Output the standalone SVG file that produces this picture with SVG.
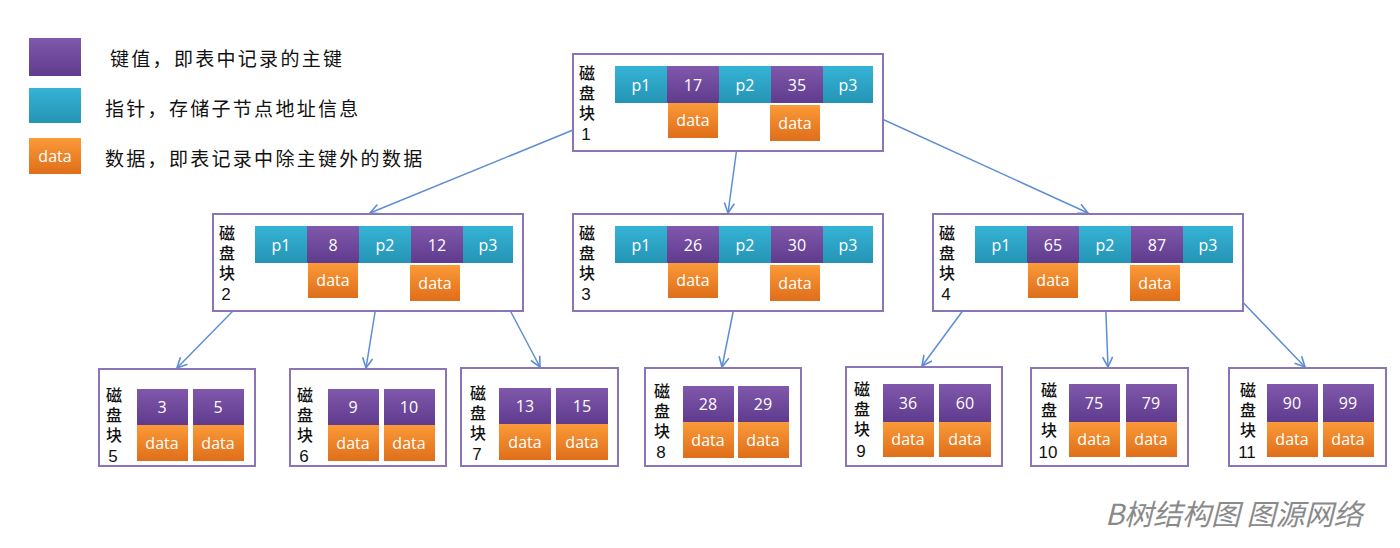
<svg xmlns="http://www.w3.org/2000/svg" width="1400" height="548" viewBox="0 0 1400 548">
<style>
.frame{fill:#fff;stroke:#8c74b8;stroke-width:2}
.k{fill:url(#gk)}
.p{fill:url(#gp)}
.d{fill:url(#gd)}
.t{font-family:"Open Sans","Liberation Sans",sans-serif;font-size:16px;fill:#fff;text-anchor:middle;dominant-baseline:central}
.lb{font-family:"Noto Sans CJK SC",sans-serif;font-size:16px;font-weight:500;fill:#111;writing-mode:vertical-rl;text-orientation:upright;letter-spacing:4px}
.nb{font-family:"Liberation Sans",sans-serif;font-size:17px;fill:#111;text-anchor:middle;dominant-baseline:central}
.lg{font-family:"Noto Sans CJK SC",sans-serif;font-size:19px;fill:#111;letter-spacing:2.3px;dominant-baseline:central}
.c{stroke:#5d8ed4;stroke-width:1.5;fill:none;marker-end:url(#ah)}
.cap{font-family:"Noto Sans CJK SC",sans-serif;font-size:29px;font-style:italic;fill:#8a8a8a}
</style>
<defs>
<linearGradient id="gk" x1="0" y1="0" x2="0" y2="1"><stop offset="0" stop-color="#8058ac"/><stop offset="1" stop-color="#5f3b8d"/></linearGradient>
<linearGradient id="gp" x1="0" y1="0" x2="0" y2="1"><stop offset="0" stop-color="#35b3d6"/><stop offset="1" stop-color="#2594b4"/></linearGradient>
<linearGradient id="gd" x1="0" y1="0" x2="0" y2="1"><stop offset="0" stop-color="#fa9a38"/><stop offset="1" stop-color="#df6e1a"/></linearGradient>
<marker id="ah" viewBox="0 0 12 12" refX="11" refY="6" markerWidth="12" markerHeight="12" markerUnits="userSpaceOnUse" orient="auto"><path d="M1,1 L11,6 L1,11" fill="none" stroke="#5d8ed4" stroke-width="1.6"/></marker>
</defs>

<g id="legend">
<rect x="29" y="38" width="52" height="38" class="k"/>
<text x="110" y="57" class="lg">键值，即表中记录的主键</text>
<rect x="29" y="88" width="52" height="35" class="p"/>
<text x="105" y="107" class="lg">指针，存储子节点地址信息</text>
<rect x="29" y="138" width="52" height="36" class="d"/>
<text x="55" y="156" class="t">data</text>
<text x="105" y="157" class="lg">数据，即表记录中除主键外的数据</text>
</g>

<g id="connectors">
<line class="c" x1="639" y1="103" x2="370" y2="213"/>
<line class="c" x1="743" y1="103" x2="728" y2="213"/>
<line class="c" x1="847" y1="103" x2="1088" y2="213"/>
<line class="c" x1="280" y1="263" x2="177" y2="368"/>
<line class="c" x1="383" y1="263" x2="366" y2="368"/>
<line class="c" x1="485" y1="263" x2="540" y2="367"/>
<line class="c" x1="743" y1="263" x2="722" y2="367"/>
<line class="c" x1="998" y1="263" x2="922" y2="366"/>
<line class="c" x1="1104" y1="263" x2="1108" y2="367"/>
<line class="c" x1="1205" y1="263" x2="1305" y2="367"/>
</g>

<g id="block1">
<rect class="frame" x="573" y="54" width="310" height="97"/>
<text class="lb" x="587" y="65">磁盘块</text><text class="nb" x="586" y="134">1</text>
<rect class="p" x="615" y="66" width="52" height="37"/><text class="t" x="641" y="85">p1</text>
<rect class="k" x="667" y="66" width="52" height="37"/><text class="t" x="693" y="85">17</text>
<rect class="p" x="719" y="66" width="52" height="37"/><text class="t" x="745" y="85">p2</text>
<rect class="k" x="771" y="66" width="52" height="37"/><text class="t" x="797" y="85">35</text>
<rect class="p" x="823" y="66" width="50" height="37"/><text class="t" x="848" y="85">p3</text>
<rect class="d" x="668" y="103" width="50" height="35"/><text class="t" x="693" y="120">data</text>
<rect class="d" x="770" y="105" width="50" height="36"/><text class="t" x="795" y="123">data</text>
</g>

<g id="block2">
<rect class="frame" x="213" y="214" width="310" height="97"/>
<text class="lb" x="227" y="225">磁盘块</text><text class="nb" x="226" y="294">2</text>
<rect class="p" x="255" y="226" width="52" height="37"/><text class="t" x="281" y="245">p1</text>
<rect class="k" x="307" y="226" width="52" height="37"/><text class="t" x="333" y="245">8</text>
<rect class="p" x="359" y="226" width="52" height="37"/><text class="t" x="385" y="245">p2</text>
<rect class="k" x="411" y="226" width="52" height="37"/><text class="t" x="437" y="245">12</text>
<rect class="p" x="463" y="226" width="50" height="37"/><text class="t" x="488" y="245">p3</text>
<rect class="d" x="308" y="263" width="50" height="35"/><text class="t" x="333" y="280">data</text>
<rect class="d" x="410" y="265" width="50" height="36"/><text class="t" x="435" y="283">data</text>
</g>

<g id="block3">
<rect class="frame" x="573" y="214" width="310" height="97"/>
<text class="lb" x="587" y="225">磁盘块</text><text class="nb" x="586" y="294">3</text>
<rect class="p" x="615" y="226" width="52" height="37"/><text class="t" x="641" y="245">p1</text>
<rect class="k" x="667" y="226" width="52" height="37"/><text class="t" x="693" y="245">26</text>
<rect class="p" x="719" y="226" width="52" height="37"/><text class="t" x="745" y="245">p2</text>
<rect class="k" x="771" y="226" width="52" height="37"/><text class="t" x="797" y="245">30</text>
<rect class="p" x="823" y="226" width="50" height="37"/><text class="t" x="848" y="245">p3</text>
<rect class="d" x="668" y="263" width="50" height="35"/><text class="t" x="693" y="280">data</text>
<rect class="d" x="770" y="265" width="50" height="36"/><text class="t" x="795" y="283">data</text>
</g>

<g id="block4">
<rect class="frame" x="933" y="214" width="310" height="97"/>
<text class="lb" x="947" y="225">磁盘块</text><text class="nb" x="946" y="294">4</text>
<rect class="p" x="975" y="226" width="52" height="37"/><text class="t" x="1001" y="245">p1</text>
<rect class="k" x="1027" y="226" width="52" height="37"/><text class="t" x="1053" y="245">65</text>
<rect class="p" x="1079" y="226" width="52" height="37"/><text class="t" x="1105" y="245">p2</text>
<rect class="k" x="1131" y="226" width="52" height="37"/><text class="t" x="1157" y="245">87</text>
<rect class="p" x="1183" y="226" width="50" height="37"/><text class="t" x="1208" y="245">p3</text>
<rect class="d" x="1028" y="263" width="50" height="35"/><text class="t" x="1053" y="280">data</text>
<rect class="d" x="1130" y="265" width="50" height="36"/><text class="t" x="1155" y="283">data</text>
</g>

<g id="block5">
<rect class="frame" x="99" y="369" width="156" height="97"/>
<text class="lb" x="114" y="387">磁盘块</text><text class="nb" x="113" y="456">5</text>
<rect class="k" x="137" y="389" width="51" height="36"/><text class="t" x="162" y="407">3</text>
<rect class="k" x="193" y="389" width="51" height="36"/><text class="t" x="218" y="407">5</text>
<rect class="d" x="137" y="425" width="51" height="36"/><text class="t" x="162" y="443">data</text>
<rect class="d" x="193" y="425" width="51" height="36"/><text class="t" x="218" y="443">data</text>
</g>

<g id="block6">
<rect class="frame" x="290" y="369" width="156" height="97"/>
<text class="lb" x="305" y="387">磁盘块</text><text class="nb" x="304" y="456">6</text>
<rect class="k" x="328" y="389" width="51" height="36"/><text class="t" x="353" y="407">9</text>
<rect class="k" x="384" y="389" width="51" height="36"/><text class="t" x="409" y="407">10</text>
<rect class="d" x="328" y="425" width="51" height="36"/><text class="t" x="353" y="443">data</text>
<rect class="d" x="384" y="425" width="51" height="36"/><text class="t" x="409" y="443">data</text>
</g>

<g id="block7">
<rect class="frame" x="461" y="368" width="157" height="98"/>
<text class="lb" x="478" y="385">磁盘块</text><text class="nb" x="477" y="454">7</text>
<rect class="k" x="499" y="388" width="52" height="36"/><text class="t" x="525" y="406">13</text>
<rect class="k" x="556" y="388" width="52" height="36"/><text class="t" x="582" y="406">15</text>
<rect class="d" x="499" y="424" width="52" height="36"/><text class="t" x="525" y="442">data</text>
<rect class="d" x="556" y="424" width="52" height="36"/><text class="t" x="582" y="442">data</text>
</g>

<g id="block8">
<rect class="frame" x="645" y="368" width="156" height="98"/>
<text class="lb" x="662" y="383">磁盘块</text><text class="nb" x="661" y="452">8</text>
<rect class="k" x="683" y="386" width="51" height="36"/><text class="t" x="708" y="404">28</text>
<rect class="k" x="738" y="386" width="51" height="36"/><text class="t" x="763" y="404">29</text>
<rect class="d" x="683" y="422" width="51" height="36"/><text class="t" x="708" y="440">data</text>
<rect class="d" x="738" y="422" width="51" height="36"/><text class="t" x="763" y="440">data</text>
</g>

<g id="block9">
<rect class="frame" x="846" y="367" width="156" height="99"/>
<text class="lb" x="862" y="381">磁盘块</text><text class="nb" x="861" y="451">9</text>
<rect class="k" x="883" y="384" width="51" height="38"/><text class="t" x="908" y="403">36</text>
<rect class="k" x="939" y="384" width="52" height="38"/><text class="t" x="965" y="403">60</text>
<rect class="d" x="883" y="422" width="51" height="35"/><text class="t" x="908" y="439">data</text>
<rect class="d" x="939" y="422" width="52" height="35"/><text class="t" x="965" y="439">data</text>
</g>

<g id="block10">
<rect class="frame" x="1031" y="368" width="157" height="98"/>
<text class="lb" x="1049" y="382">磁盘块</text><text class="nb" x="1048" y="452">10</text>
<rect class="k" x="1069" y="384" width="51" height="38"/><text class="t" x="1094" y="403">75</text>
<rect class="k" x="1126" y="384" width="51" height="38"/><text class="t" x="1151" y="403">79</text>
<rect class="d" x="1069" y="422" width="51" height="35"/><text class="t" x="1094" y="439">data</text>
<rect class="d" x="1126" y="422" width="51" height="35"/><text class="t" x="1151" y="439">data</text>
</g>

<g id="block11">
<rect class="frame" x="1229" y="368" width="157" height="98"/>
<text class="lb" x="1248" y="382">磁盘块</text><text class="nb" x="1247" y="452">11</text>
<rect class="k" x="1267" y="384" width="51" height="38"/><text class="t" x="1292" y="403">90</text>
<rect class="k" x="1323" y="384" width="51" height="38"/><text class="t" x="1348" y="403">99</text>
<rect class="d" x="1267" y="422" width="51" height="35"/><text class="t" x="1292" y="439">data</text>
<rect class="d" x="1323" y="422" width="51" height="35"/><text class="t" x="1348" y="439">data</text>
</g>

<text class="cap" x="1105" y="525">B树结构图 图源网络</text>
</svg>
